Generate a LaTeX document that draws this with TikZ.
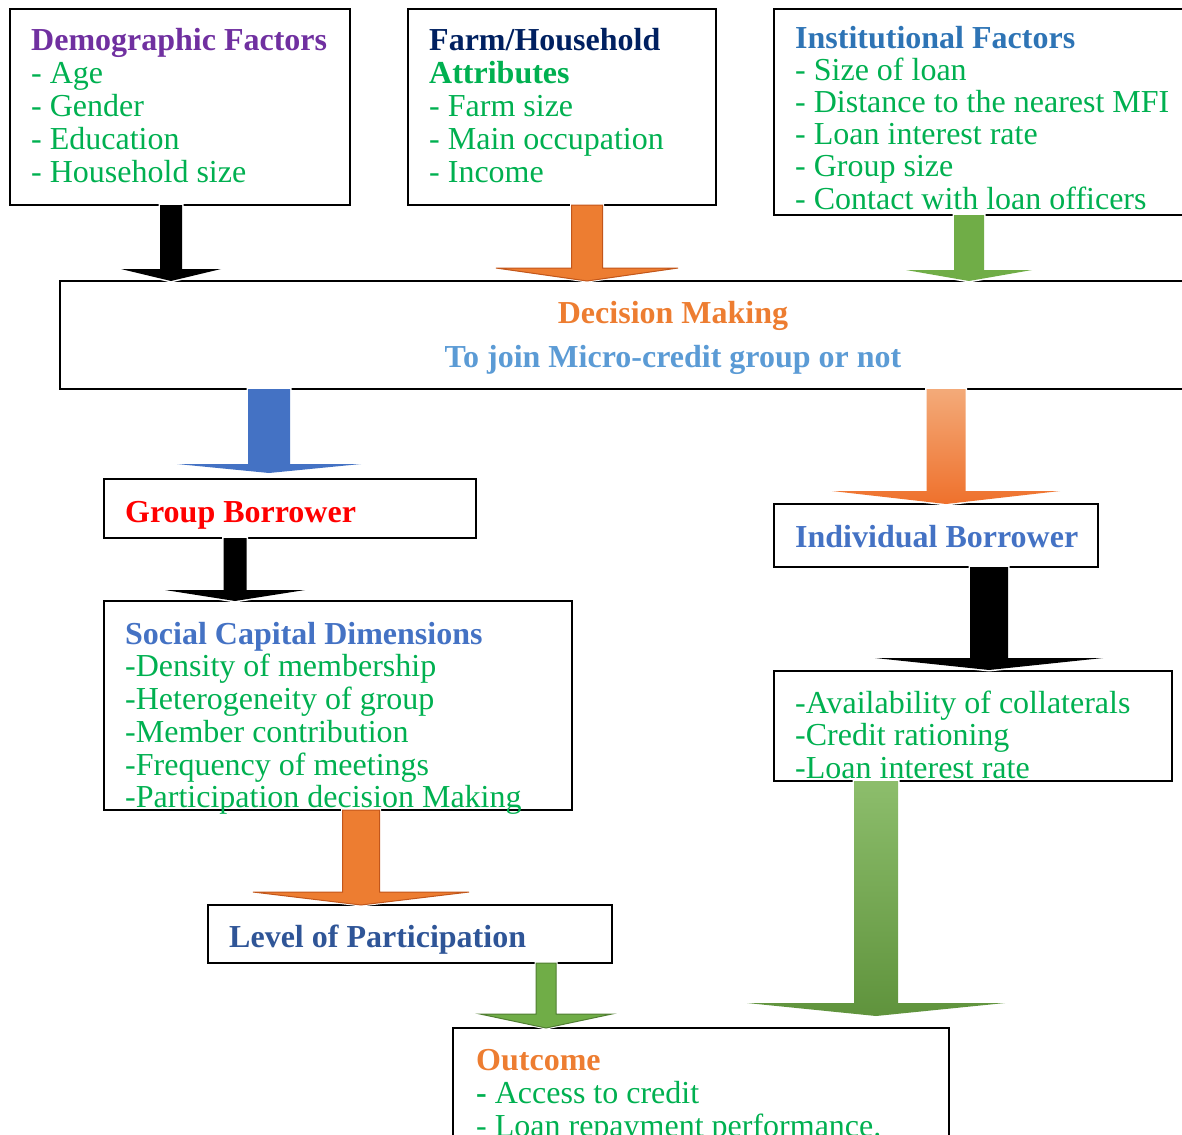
\documentclass[tikz,border=0pt]{standalone}
\usepackage{fontspec}
\setmainfont{Liberation Serif}
\usetikzlibrary{positioning}

\definecolor{grn}{HTML}{00B050}
\definecolor{purp}{HTML}{7030A0}
\definecolor{navy}{HTML}{002060}
\definecolor{instblue}{HTML}{2E74B5}
\definecolor{orng}{HTML}{ED7D31}
\definecolor{orngdark}{HTML}{C2561A}
\definecolor{skyblue}{HTML}{5B9BD5}
\definecolor{accblue}{HTML}{4472C4}
\definecolor{darkblue}{HTML}{2F5597}
\definecolor{lgreen}{HTML}{70AD47}
\definecolor{dgreen}{HTML}{507E32}

% first line strut, fixes the first baseline 24pt below the node top
\newcommand{\firstln}{\rule{0pt}{24pt}}

% block arrow: [style]{start node}{tip}{shaft half width}{head half width}{head length}
\newcommand{\blockarrow}[6][]{%
  \coordinate (ba-s) at (#2 -| #3);
  \path[halo,#1] ([xshift=-#4]ba-s) -- ([xshift=-#4,yshift=#6]#3)
    -- ([xshift=-#5,yshift=#6]#3) -- (#3) -- ([xshift=#5,yshift=#6]#3)
    -- ([xshift=#4,yshift=#6]#3) -- ([xshift=#4]ba-s) -- cycle;
}

\tikzset{
  box/.style={draw,line width=1.3pt,inner sep=0pt,outer sep=0pt,anchor=north west},
  txt/.style={anchor=north west,inner sep=0pt,align=left,text=grn,
    font=\fontsize{32}{33}\selectfont},
  halo/.style={preaction={draw=white,line width=3pt}},
}

\begin{document}
\begin{tikzpicture}[x=1pt,y=-1pt]
  \useasboundingbox (0,0) rectangle (1182,1134);
  \clip (0,0) rectangle (1182,1134);

  % boxes
  \node[box,minimum width=340,minimum height=196] (demo) at (10,9) {};
  \node[box,minimum width=308,minimum height=196] (farm) at (408,9) {};
  \node[box,minimum width=420,minimum height=206] (inst) at (774,9) {};
  \node[box,minimum width=1130,minimum height=108] (dec) at (60,281) {};
  \node[box,minimum width=372,minimum height=59] (grp) at (104,479) {};
  \node[box,minimum width=324,minimum height=63] (ind) at (774,504) {};
  \node[box,minimum width=468,minimum height=209] (soc) at (104,601) {};
  \node[box,minimum width=398,minimum height=110] (avail) at (774,671) {};
  \node[box,minimum width=404,minimum height=58] (lvl) at (208,905) {};
  \node[box,minimum width=496,minimum height=130] (out) at (453,1028) {};

  % texts
  \node[txt] (demo-t) at ([shift={(21,17)}]demo.north west)
    {\firstln\textcolor{purp}{\bfseries Demographic Factors}\\- Age\\- Gender\\- Education\\- Household size};
  \node[txt] (farm-t) at ([shift={(21,17)}]farm.north west)
    {\firstln\textcolor{navy}{\bfseries Farm/Household}\\\textbf{Attributes}\\- Farm size\\- Main occupation\\- Income};
  \node[txt,font=\fontsize{32}{32.2}\selectfont] (inst-t) at ([shift={(21,15)}]inst.north west)
    {\firstln\textcolor{instblue}{\bfseries Institutional Factors}\\- Size of loan\\- Distance to the nearest MFI\\- Loan interest rate\\- Group size\\- Contact with loan officers};
  \node[txt,anchor=north,align=center,font=\fontsize{32}{44}\selectfont\bfseries] (dec-t) at (673,299)
    {\firstln\textcolor{orng}{Decision Making}\\\textcolor{skyblue}{To join Micro-credit group or not}};
  \node[txt,text=red,font=\fontsize{32}{33}\selectfont\bfseries] (grp-t) at ([shift={(21,19)}]grp.north west)
    {\firstln Group Borrower};
  \node[txt,text=accblue,font=\fontsize{32}{33}\selectfont\bfseries] (ind-t) at ([shift={(21,19)}]ind.north west)
    {\firstln Individual Borrower};
  \node[txt,font=\fontsize{32}{32.7}\selectfont] (soc-t) at ([shift={(21,19)}]soc.north west)
    {\firstln\textcolor{accblue}{\bfseries Social Capital Dimensions}\\-Density of membership\\-Heterogeneity of group\\-Member contribution\\-Frequency of meetings\\-Participation decision Making};
  \node[txt,font=\fontsize{32}{32.5}\selectfont] (avail-t) at ([shift={(21,18)}]avail.north west)
    {\firstln-Availability of collaterals\\-Credit rationing\\-Loan interest rate};
  \node[txt,text=darkblue,font=\fontsize{32}{33}\selectfont\bfseries] (lvl-t) at ([shift={(21,18)}]lvl.north west)
    {\firstln Level of Participation};
  \node[txt] (out-t) at ([shift={(23,18)}]out.north west)
    {\firstln\textcolor{orng}{\bfseries Outcome}\\\textbf{-} Access to credit\\- Loan repayment performance.};

  % arrow tips
  \coordinate (t1) at (171,0 |- dec.north);
  \coordinate (t2) at (587,0 |- dec.north);
  \coordinate (t3) at (969,0 |- dec.north);
  \coordinate (t4) at (269,473);
  \coordinate (t5) at (946,0 |- ind.north);
  \coordinate (t6) at (235,0 |- soc.north);
  \coordinate (t7) at (989,670);
  \coordinate (t8) at (361,0 |- lvl.north);
  \coordinate (t9) at (546,0 |- out.north);
  \coordinate (t10) at (876,1016);

  % arrows
  \blockarrow[fill=black]{demo.south}{t1}{11}{50}{12}
  \blockarrow[fill=orng,draw=orngdark,line width=1pt]{farm.south}{t2}{15.5}{91}{13}
  \blockarrow[fill=lgreen]{inst.south}{t3}{15}{63}{11}
  \blockarrow[fill=accblue]{dec.south}{t4}{21}{92}{9}
  \blockarrow[top color=orng!65!white,bottom color=orng!90!red]{dec.south}{t5}{19.5}{114}{13}
  \blockarrow[fill=black]{grp.south}{t6}{11.5}{70}{11}
  \blockarrow[fill=black]{ind.south}{t7}{19}{114}{12}
  \blockarrow[fill=orng,draw=orngdark,line width=1pt]{soc.south}{t8}{18.5}{108}{13}
  \blockarrow[fill=lgreen,draw=dgreen,line width=1pt]{lvl.south}{t9}{10}{66}{14}
  \blockarrow[top color=lgreen!80!white,bottom color=lgreen!85!black]{avail.south}{t10}{22}{129}{13}
\end{tikzpicture}
\end{document}
